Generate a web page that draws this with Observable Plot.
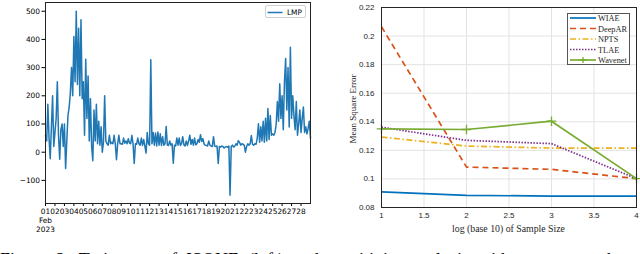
<!DOCTYPE html>
<html><head><meta charset="utf-8">
<script src="https://cdn.jsdelivr.net/npm/d3@7"></script>
<script src="https://cdn.jsdelivr.net/npm/@observablehq/plot@0.6"></script>
<style>
html,body{margin:0;padding:0;background:#fff;}
#wrap{position:relative;width:640px;height:254px;overflow:hidden;background:#fff;}
#left,#right{position:absolute;top:0;}
#left{left:0;} #right{left:320px;}
.abs{position:absolute;white-space:nowrap;}
#caption{position:absolute;left:0;top:249.5px;width:640px;font-family:"Liberation Serif",serif;font-size:18px;line-height:1.15;white-space:nowrap;word-spacing:4.5px;color:#000;}
</style></head><body>
<div id="wrap">
  <div id="left"></div>
  <div id="right"></div>
  <div id="legL" class="abs" style="left:265px;top:5px;width:41px;height:13px;border:1px solid #d0d0d0;border-radius:2px;background:#fff;box-sizing:border-box;"></div>
  <div id="legR" class="abs" style="left:567px;top:12.5px;width:63px;height:52.5px;border:1px solid #555;background:#fff;box-sizing:border-box;"></div>
  <div class="abs" id="xlabR" style="left:508.5px;top:228.3px;transform:translate(-50%,-50%);font-family:'Liberation Serif',serif;font-size:9.8px;color:#262626;">log (base 10) of Sample Size</div>
  <div class="abs" id="ylabR" style="left:353.3px;top:109px;transform:translate(-50%,-50%) rotate(-90deg);font-family:'Liberation Serif',serif;font-size:9px;color:#262626;">Mean Square Error</div>
  <div id="caption">Figure 2: Trajectory of ISONE (left) and sensitivity analysis with respect to the sample size (right).</div>
</div>
<script>
// ---------- Left panel data: ISONE LMP, Feb 2023, 3-hourly readings ----------
const lmpStart = Date.UTC(2023, 1, 1);
const lmpEnd = Date.UTC(2023, 2, 1);
const lmpStepHours = 3;
const lmpWeek1 = [
  60, 40, 170, 50, -23, 90, 200, 20,
  70, 120, 250, 60, -25, 80, 100, 20,
  100, -58, 40, 130, 160, 210, 300, 200,
  410, 250, 500, 240, 440, 200, 470, 190,
  250, 60, 330, 120, 270, 40, 190, 20,
  -30, 150, 40, 170, 30, 110, 25, 90,
  0, 35, 200, 40, 30, 25, 60, 30
];
const lmpWeek2 = [
  35, 30, 60, 30, -27, 30, 60, 30,
  30, 28, 50, 32, 40, 30, 48, 32,
  30, 60, 30, -40, 30, 28, 50, 30,
  25, 50, 24, 45, 22, -3, 70, 30,
  25, 328, 30, 70, 25, 68, 22, 72,
  25, 65, 24, 55, 25, 30, 91, 25,
  24, 40, 25, 30, -39, 25, 22, 50
];
const lmpWeek3 = [
  25, 50, 24, 30, 55, 26, 22, 40,
  24, 40, 60, 28, 45, 25, 50, 26,
  30, 45, 35, 62, 38, 48, 30, 25,
  24, 22, 40, 25, 22, 20, 55, 22,
  20, 22, -40, 20, 18, 22, 20, 15,
  18, 20, 18, 22, -153, 20, 25, 18,
  22, 30, 25, 41, 35, 25, 30, 28
];
const lmpWeek4 = [
  25, 0, 20, 30, 25, 30, 59, 28,
  25, 30, 28, 50, 101, 35, 90, 40,
  110, 35, 120, 40, 155, 45, 130, 60,
  65, 60, 70, 100, 180, 110, 243, 120,
  200, 80, 250, 332, 150, 300, 89, 372,
  120, 200, 130, 80, 180, 60, 100, 150,
  70, 120, 160, 70, 90, 65, 85, 110,
  50
];
const leftYTicks = [-100, 0, 100, 200, 300, 400, 500];
const leftSeriesName = "LMP";
const leftColor = "#1f77b4";

// ---------- Right panel data: sensitivity analysis ----------
const sampleSizeLog = [1, 2, 3, 4];
const wiae    = [0.091, 0.0885, 0.088, 0.088];
const deepAR  = [0.2065, 0.1083, 0.1067, 0.1002];
const npts    = [0.1293, 0.1230, 0.1216, 0.1216];
const tlae    = [0.1362, 0.1270, 0.1247, 0.1002];
const wavenet = [0.1351, 0.1346, 0.1404, 0.1002];
const rightXTicks = [1, 1.5, 2, 2.5, 3, 3.5, 4];
const rightYTicks = [0.08, 0.1, 0.12, 0.14, 0.16, 0.18, 0.2, 0.22];
const seriesNames = ["WIAE", "DeepAR", "NPTS", "TLAE", "Wavenet"];
const seriesColors = ["#0072BD", "#D95319", "#EDB120", "#7E2F8E", "#77AC30"];
const seriesDash = [null, "6,4", "6,2.5,1.5,2.5", "1.5,1.5", null];

// ---------- Left chart ----------
const lmpValues = [...lmpWeek1, ...lmpWeek2, ...lmpWeek3, ...lmpWeek4];
const lmpData = lmpValues.map((v, i) => ({t: new Date(lmpStart + i * lmpStepHours * 3600e3), v}));
const dayTicks = d3.utcDays(new Date(lmpStart), new Date(lmpEnd));
const fmtDay = d3.utcFormat("%d");

const left = Plot.plot({
  width: 320, height: 240,
  marginLeft: 45, marginRight: 10, marginTop: 2, marginBottom: 37,
  style: {fontFamily: "DejaVu Sans", fontSize: "7.4px", color: "#000", background: "transparent", overflow: "visible"},
  x: {type: "utc", domain: [new Date(lmpStart), new Date(lmpEnd)]},
  y: {domain: [-182, 531]},
  marks: [
    Plot.line(lmpData, {x: "t", y: "v", stroke: leftColor, strokeWidth: 1.5}),
    Plot.axisX({ticks: dayTicks, tickSize: 3, tickPadding: 1, label: null, lineHeight: 1.2,
      tickFormat: d => (+d === lmpStart ? fmtDay(d) + "\nFeb\n2023" : fmtDay(d))}),
    Plot.axisY({ticks: leftYTicks, tickSize: 3.5, tickPadding: 2, label: null}),
    Plot.frame({stroke: "#222"})
  ]
});
document.getElementById("left").append(left);

// left legend
document.getElementById("legL").innerHTML =
  `<svg width="41" height="13" style="position:absolute;left:0;top:0"><line x1="1.5" x2="16.5" y1="6.5" y2="6.5" stroke="${leftColor}" stroke-width="1.5"/><text x="21" y="9.3" font-family="DejaVu Sans" font-size="7.4" fill="#000">${leftSeriesName}</text></svg>`;

// ---------- Right chart ----------
const allSeries = [wiae, deepAR, npts, tlae, wavenet];
const lineMarks = allSeries.map((vals, k) =>
  Plot.line(sampleSizeLog.map((x, i) => ({x, y: vals[i]})), {
    x: "x", y: "y", stroke: seriesColors[k], strokeWidth: 1.7,
    strokeDasharray: seriesDash[k] || undefined, strokeLinecap: "butt"
  })
);
const right = Plot.plot({
  width: 320, height: 240,
  marginLeft: 61, marginRight: 4, marginTop: 7, marginBottom: 33,
  style: {fontFamily: "Liberation Sans", fontSize: "8px", color: "#262626", background: "transparent", overflow: "visible"},
  x: {domain: [1, 4]},
  y: {domain: [0.08, 0.22]},
  marks: [
    Plot.gridX({ticks: rightXTicks, stroke: "#e3e3e3", strokeOpacity: 1}),
    Plot.gridY({ticks: rightYTicks, stroke: "#e3e3e3", strokeOpacity: 1}),
    ...lineMarks,
    Plot.dot(sampleSizeLog.map((x, i) => ({x, y: wavenet[i]})), {x: "x", y: "y", symbol: "plus", r: 3.2, stroke: seriesColors[4], strokeWidth: 1.3}),
    Plot.axisX({ticks: rightXTicks, tickSize: 0, tickPadding: 5, label: null, tickFormat: d => String(d)}),
    Plot.axisY({ticks: rightYTicks, tickSize: 0, tickPadding: 7, label: null, tickFormat: d => String(+d.toFixed(2))}),
    Plot.frame({stroke: "#262626"})
  ]
});
document.getElementById("right").append(right);

// right legend
const rowY = [5, 15.5, 26, 36.5, 47];
let legSvg = `<svg width="63" height="53" style="position:absolute;left:-1px;top:-1px">`;
seriesNames.forEach((name, k) => {
  const y = rowY[k];
  legSvg += `<line x1="3" x2="29" y1="${y}" y2="${y}" stroke="${seriesColors[k]}" stroke-width="1.7"${seriesDash[k] ? ` stroke-dasharray="${seriesDash[k]}"` : ""}/>`;
  if (name === "Wavenet") legSvg += `<path d="M16,${y-3}V${y+3}M13,${y}H19" stroke="${seriesColors[k]}" stroke-width="1.3"/>`;
  legSvg += `<text x="31" y="${y + 3}" font-family="Liberation Serif" font-size="8.3" fill="#262626">${name}</text>`;
});
legSvg += `</svg>`;
document.getElementById("legR").innerHTML = legSvg;
</script>
</body></html>
